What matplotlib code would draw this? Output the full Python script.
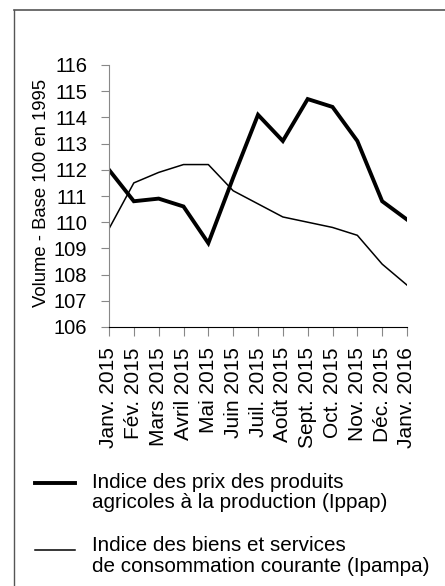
import matplotlib
matplotlib.use("Agg")
import matplotlib.pyplot as plt
from matplotlib.lines import Line2D

months = ["Janv. 2015", "Fév. 2015", "Mars 2015", "Avril 2015", "Mai 2015",
          "Juin 2015", "Juil. 2015", "Août 2015", "Sept. 2015", "Oct. 2015",
          "Nov. 2015", "Déc. 2015", "Janv. 2016"]
ippap = [112.0, 110.8, 110.9, 110.6, 109.2, 111.7, 114.1, 113.1, 114.7,
         114.4, 113.1, 110.8, 110.1]
ipampa = [109.75, 111.5, 111.9, 112.2, 112.2, 111.2, 110.7, 110.2, 110.0,
          109.8, 109.5, 108.4, 107.6]
legend_labels = ["Indice des prix des produits\nagricoles à la production (Ippap)",
                 "Indice des biens et services\nde consommation courante (Ipampa)"]
yticks = list(range(106, 117))

plt.rcParams["font.family"] = ["Liberation Sans", "DejaVu Sans"]

W, H = 445, 586
fig = plt.figure(figsize=(W / 100, H / 100), dpi=100)
ax = fig.add_axes([109 / W, 1 - 327 / H, 298 / W, 262 / H])

x = list(range(len(months)))
ax.plot(x, ippap, color="black", linewidth=2.8, solid_joinstyle="miter")
ax.plot(x, ipampa, color="black", linewidth=1.1)

ax.set_xlim(0, len(months) - 1)
ax.set_ylim(106, 116)
ax.set_yticks(yticks)
ax.set_yticklabels([str(v) for v in yticks], fontsize=14.5)
ax.set_xticks(x)
ax.set_xticklabels(months, rotation=90, fontsize=15)
ax.set_ylabel("Volume - Base 100 en 1995", fontsize=13.3)
ax.yaxis.set_label_coords(-0.198, 0.513)

for s in ["top", "right"]:
    ax.spines[s].set_visible(False)
ax.spines["left"].set_color("#888888")
ax.spines["bottom"].set_color("black")
ax.tick_params(axis="y", length=5.8, color="#888888", pad=10)
ax.tick_params(axis="x", length=6.5, color="#888888", pad=8)

# frame lines (left and top only)
fig.add_artist(Line2D([14 / W, 14 / W], [0, 1 - 10 / H], color="#555555", linewidth=1.0))
fig.add_artist(Line2D([14 / W, 1], [1 - 10 / H, 1 - 10 / H], color="#555555", linewidth=1.2))

# legend
handle_y = [483, 550]
text_top = [473, 536]
widths = [2.8, 1.1]
for hy, ty, lw, lab in zip(handle_y, text_top, widths, legend_labels):
    fig.add_artist(Line2D([35 / W, 75 / W], [1 - hy / H, 1 - hy / H], color="black", linewidth=lw))
    fig.text(92 / W, 1 - ty / H, lab, fontsize=14.9, va="top", ha="left",
             linespacing=1.1)

fig.savefig("out.png", dpi=100)
